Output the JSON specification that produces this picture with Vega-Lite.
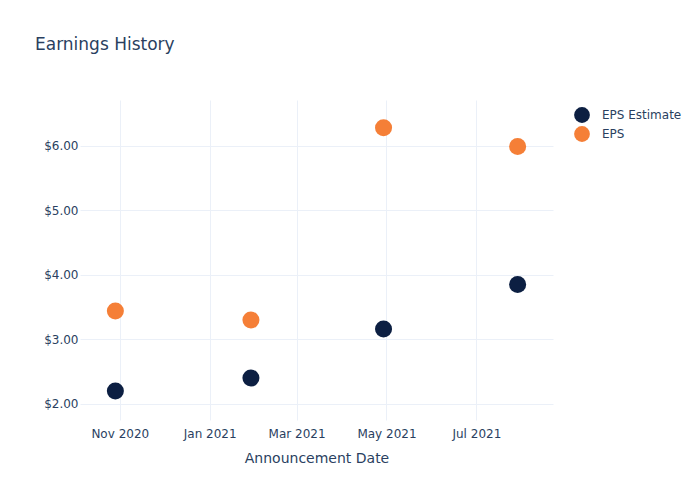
{
  "$schema": "https://vega.github.io/schema/vega-lite/v6.json",
  "width": 473,
  "height": 320,
  "autosize": {"type": "none"},
  "padding": {"left": 80, "top": 100, "right": 147, "bottom": 80},
  "background": "white",
  "title": {
    "text": "Earnings History",
    "anchor": "start",
    "frame": "group",
    "dx": -45,
    "offset": 46,
    "fontSize": 17,
    "font": "DejaVu Sans",
    "fontWeight": "normal",
    "color": "#2a3f5f"
  },
  "config": {
    "view": {"stroke": null},
    "font": "DejaVu Sans"
  },
  "data": {
    "values": [
      {"date": "2020-10-29", "series": "EPS Estimate", "value": 2.20},
      {"date": "2021-01-29", "series": "EPS Estimate", "value": 2.40},
      {"date": "2021-04-29", "series": "EPS Estimate", "value": 3.16},
      {"date": "2021-07-29", "series": "EPS Estimate", "value": 3.85},
      {"date": "2020-10-29", "series": "EPS", "value": 3.44},
      {"date": "2021-01-29", "series": "EPS", "value": 3.30},
      {"date": "2021-04-29", "series": "EPS", "value": 6.28},
      {"date": "2021-07-29", "series": "EPS", "value": 5.99}
    ]
  },
  "mark": {"type": "circle", "size": 290, "opacity": 1},
  "encoding": {
    "x": {
      "field": "date",
      "type": "temporal",
      "scale": {
        "type": "utc",
        "domain": [
          {"year": 2020, "month": 10, "date": 5, "utc": true},
          {"year": 2021, "month": 8, "date": 22, "utc": true}
        ]
      },
      "axis": {
        "title": "Announcement Date",
        "values": [
          {"year": 2020, "month": 11, "date": 1, "utc": true},
          {"year": 2021, "month": 1, "date": 1, "utc": true},
          {"year": 2021, "month": 3, "date": 1, "utc": true},
          {"year": 2021, "month": 5, "date": 1, "utc": true},
          {"year": 2021, "month": 7, "date": 1, "utc": true}
        ],
        "labelExpr": "utcFormat(datum.value, '%b %Y')",
        "domain": false,
        "ticks": false,
        "grid": true,
        "gridColor": "#ebf0f8",
        "gridWidth": 1,
        "labelPadding": 8,
        "labelFontSize": 12,
        "labelColor": "#2a3f5f",
        "titleFontSize": 14,
        "titleFontWeight": "normal",
        "titleColor": "#2a3f5f",
        "titlePadding": 12
      }
    },
    "y": {
      "field": "value",
      "type": "quantitative",
      "scale": {"domain": [1.75, 6.71], "nice": false, "zero": false},
      "axis": {
        "title": null,
        "values": [2, 3, 4, 5, 6],
        "format": "$.2f",
        "domain": false,
        "ticks": false,
        "grid": true,
        "gridColor": "#ebf0f8",
        "gridWidth": 1,
        "labelPadding": 2,
        "labelFontSize": 12,
        "labelColor": "#2a3f5f"
      }
    },
    "color": {
      "field": "series",
      "type": "nominal",
      "scale": {"domain": ["EPS Estimate", "EPS"], "range": ["#0c1f42", "#f57f37"]},
      "legend": {
        "title": null,
        "orient": "none",
        "legendX": 494,
        "legendY": 7,
        "symbolType": "circle",
        "symbolSize": 250,
        "symbolOpacity": 1,
        "symbolStrokeWidth": 0,
        "labelFontSize": 12,
        "labelColor": "#2a3f5f",
        "labelOffset": 12,
        "rowPadding": 3
      }
    }
  }
}
